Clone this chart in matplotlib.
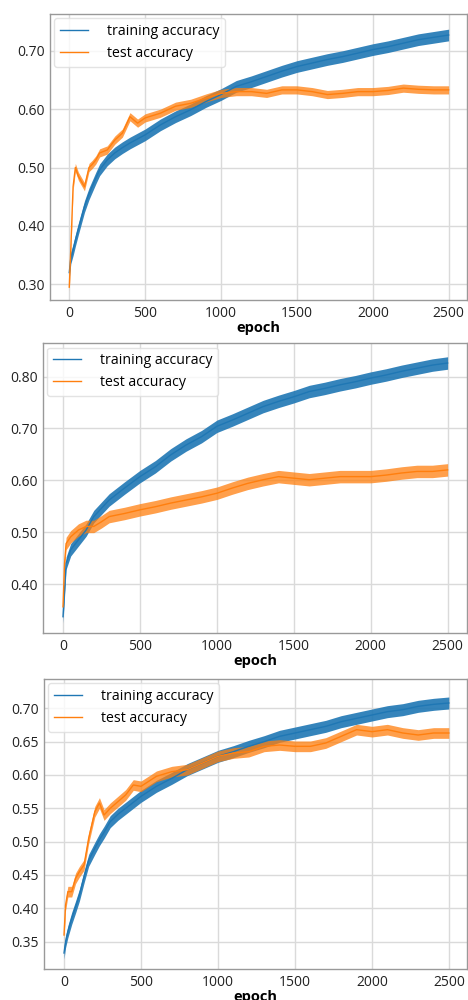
import matplotlib
matplotlib.use("Agg")
import matplotlib.pyplot as plt
import numpy as np

plt.rcParams['font.family'] = ['Open Sans', 'DejaVu Sans']

epochs1 = [0, 10, 25, 40, 60, 100, 130, 150, 175, 200, 250, 300, 350, 400, 450, 500, 600, 700, 800, 900,
           1000, 1100, 1200, 1300, 1400, 1500, 1600, 1700, 1800, 1900, 2000, 2100, 2200, 2300, 2400, 2499]
train1 = [0.320, 0.345, 0.359, 0.375, 0.395, 0.433, 0.455, 0.467, 0.482, 0.496, 0.513, 0.525, 0.534, 0.542, 0.549, 0.556,
          0.573, 0.587, 0.599, 0.613, 0.625, 0.639, 0.647, 0.656, 0.665, 0.673, 0.679, 0.685, 0.690, 0.696,
          0.702, 0.707, 0.713, 0.719, 0.723, 0.727]
test1 = [0.295, 0.360, 0.467, 0.500, 0.485, 0.467, 0.500, 0.505, 0.513, 0.525, 0.530, 0.547, 0.559, 0.587, 0.576, 0.585,
         0.593, 0.605, 0.610, 0.619, 0.627, 0.630, 0.630, 0.627, 0.633, 0.633, 0.630, 0.625, 0.627, 0.630,
         0.630, 0.632, 0.636, 0.634, 0.633, 0.633]

epochs2 = [0, 10, 20, 50, 100, 150, 200, 250, 300, 400, 500, 600, 700, 800, 900, 1000, 1100, 1200, 1300, 1400,
           1500, 1600, 1700, 1800, 1900, 2000, 2100, 2200, 2300, 2400, 2499]
train2 = [0.337, 0.388, 0.440, 0.466, 0.485, 0.504, 0.530, 0.546, 0.562, 0.585, 0.607, 0.626, 0.649, 0.668, 0.684,
          0.704, 0.716, 0.729, 0.742, 0.752, 0.761, 0.771, 0.777, 0.784, 0.790, 0.797, 0.803, 0.810, 0.816,
          0.822, 0.826]
test2 = [0.356, 0.440, 0.478, 0.491, 0.504, 0.511, 0.511, 0.520, 0.530, 0.536, 0.543, 0.549, 0.556, 0.562, 0.568,
         0.575, 0.585, 0.594, 0.601, 0.607, 0.604, 0.601, 0.604, 0.607, 0.607, 0.607, 0.610, 0.614, 0.617,
         0.617, 0.620]

epochs3 = [0, 10, 25, 50, 75, 100, 130, 160, 200, 230, 260, 300, 350, 400, 450, 500, 600, 700, 800, 900, 1000,
           1100, 1200, 1300, 1400, 1500, 1600, 1700, 1800, 1900, 2000, 2100, 2200, 2300, 2400, 2499]
train3 = [0.333, 0.350, 0.365, 0.385, 0.402, 0.420, 0.447, 0.472, 0.490, 0.503, 0.514, 0.530, 0.541, 0.550, 0.559,
          0.568, 0.583, 0.595, 0.608, 0.618, 0.628, 0.635, 0.643, 0.650, 0.658, 0.663, 0.668, 0.673, 0.680,
          0.685, 0.690, 0.695, 0.698, 0.703, 0.706, 0.708]
test3 = [0.360, 0.405, 0.425, 0.425, 0.445, 0.455, 0.465, 0.505, 0.545, 0.558, 0.540, 0.550, 0.560, 0.570, 0.585,
         0.583, 0.598, 0.605, 0.608, 0.618, 0.628, 0.633, 0.635, 0.643, 0.645, 0.643, 0.643, 0.648, 0.658,
         0.668, 0.665, 0.668, 0.663, 0.660, 0.663, 0.663]

# half-width of the noisy band seen around each curve
spread1 = (0.010, 0.007)
spread2 = (0.012, 0.012)
spread3 = (0.009, 0.008)

panels = [
    dict(x=epochs1, tr=train1, te=test1, sp=spread1, rect=[50/468, 0.700, 417/468, 0.286],
         ylim=(0.273, 0.763), yticks=[0.30, 0.40, 0.50, 0.60, 0.70], xlim=(-127, 2620)),
    dict(x=epochs2, tr=train2, te=test2, sp=spread2, rect=[43/468, 0.3667, 424/468, 0.290],
         ylim=(0.305, 0.864), yticks=[0.40, 0.50, 0.60, 0.70, 0.80], xlim=(-130, 2625)),
    dict(x=epochs3, tr=train3, te=test3, sp=spread3, rect=[44/468, 0.031, 423/468, 0.290],
         ylim=(0.309, 0.744), yticks=[0.35, 0.40, 0.45, 0.50, 0.55, 0.60, 0.65, 0.70], xlim=(-130, 2617)),
]

BLUE = '#1f77b4'
ORANGE = '#ff7f0e'

fig = plt.figure(figsize=(4.68, 10), dpi=100)
for p in panels:
    ax = fig.add_axes(p['rect'])
    x = np.array(p['x'])
    tr = np.array(p['tr'])
    te = np.array(p['te'])
    ax.fill_between(x, tr - p['sp'][0], tr + p['sp'][0], color=BLUE, lw=0, alpha=0.9)
    ax.plot(x, tr, color=BLUE, lw=1.0, label='training accuracy')
    ax.fill_between(x, te - p['sp'][1], te + p['sp'][1], color=ORANGE, lw=0, alpha=0.75)
    ax.plot(x, te, color=ORANGE, lw=1.0, label='test accuracy')
    ax.set_xlim(*p['xlim'])
    ax.set_ylim(*p['ylim'])
    ax.set_yticks(p['yticks'])
    ax.set_yticklabels([f'{v:.2f}' for v in p['yticks']])
    ax.set_xticks([0, 500, 1000, 1500, 2000, 2500])
    ax.tick_params(length=0, labelsize=10, colors='#222222', pad=4)
    ax.grid(True, color='#dadada', lw=1.0)
    ax.set_axisbelow(True)
    for s in ax.spines.values():
        s.set_color('#999999')
        s.set_linewidth(1.0)
    ax.set_xlabel('epoch', fontsize=10.5, fontweight='bold', labelpad=0)
    ax.legend(loc='upper left', fontsize=10.2, frameon=True, framealpha=0.8, edgecolor='#dddddd',
              borderaxespad=0.3, handlelength=2.0, handletextpad=1.3)

fig.savefig('out.png', dpi=100)
